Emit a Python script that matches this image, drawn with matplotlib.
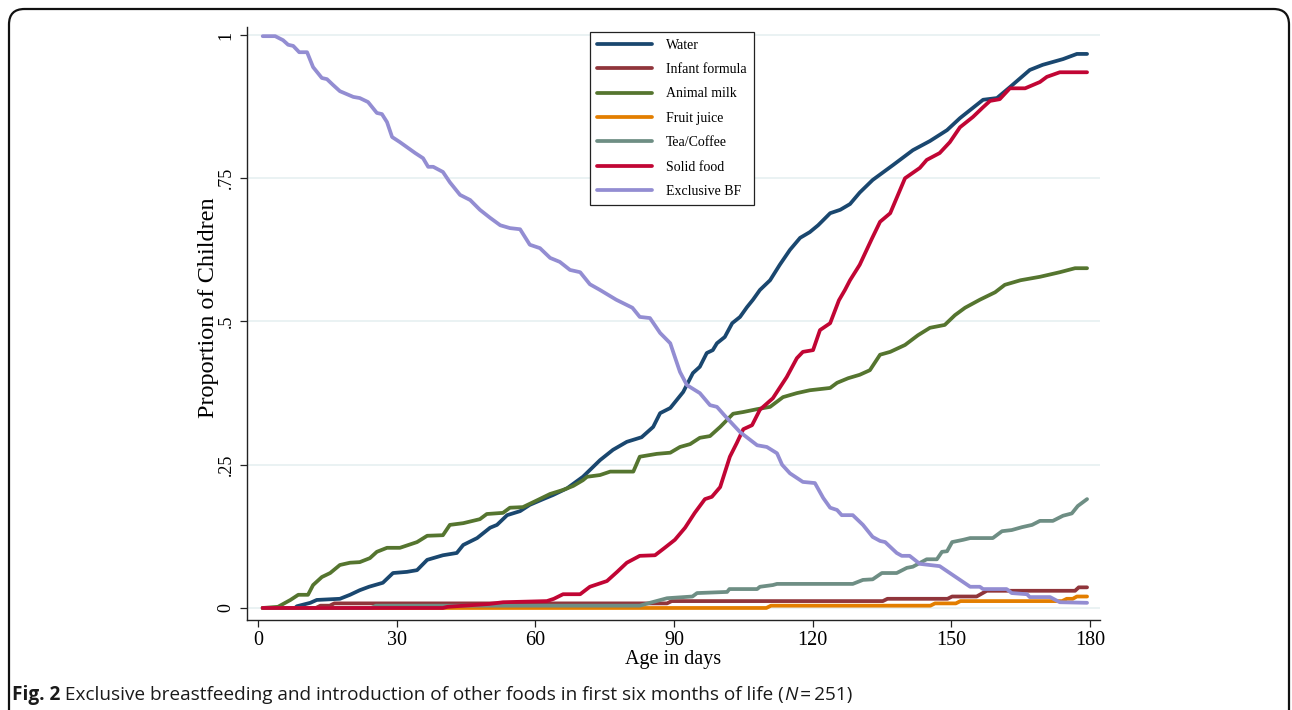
import matplotlib
matplotlib.use("Agg")
import matplotlib.pyplot as plt
from matplotlib.patches import FancyBboxPatch

# ---------------- data (day, proportion) ----------------
series_names = ["Water", "Infant formula", "Animal milk", "Fruit juice",
                "Tea/Coffee", "Solid food", "Exclusive BF"]
series_colors = ["#1a476f", "#90353b", "#55752f", "#e37e00",
                 "#6e8e84", "#c10534", "#938dd2"]

water = [(1, 0), (8, 0), (8.4, 0.003), (11.3, 0.009), (12.7, 0.014), (17.7, 0.016),
         (19.9, 0.023), (22, 0.031), (24, 0.037), (27, 0.044), (29.2, 0.061),
         (32.2, 0.063), (34.4, 0.066), (36.6, 0.084), (40, 0.092), (43, 0.096),
         (44.4, 0.11), (47.4, 0.122), (50.2, 0.14), (51.7, 0.145), (53.9, 0.162),
         (56.7, 0.169), (58.8, 0.18), (61.7, 0.19), (63.8, 0.197), (66.9, 0.209),
         (70.3, 0.229), (74, 0.258), (76.8, 0.276), (79.8, 0.29), (83, 0.298),
         (85.5, 0.316), (87, 0.34), (89.2, 0.349), (90.9, 0.366), (92, 0.377),
         (94.1, 0.41), (95.6, 0.421), (97.1, 0.445), (98.4, 0.45), (99.3, 0.462),
         (101, 0.473), (102.6, 0.497), (104.3, 0.508), (105.8, 0.525), (107.1, 0.538),
         (108.6, 0.555), (110.8, 0.572), (112.9, 0.599), (115.1, 0.625), (117.3, 0.646),
         (119.4, 0.656), (121.2, 0.668), (123.8, 0.689), (126, 0.695), (128.1, 0.705),
         (130.2, 0.725), (133, 0.747), (137.4, 0.773), (141.7, 0.799), (145.4, 0.815),
         (149.1, 0.834), (151.9, 0.855), (156.9, 0.887), (159.9, 0.89), (162.7, 0.909),
         (167, 0.939), (169.8, 0.948), (174.2, 0.958), (177.2, 0.967), (179.4, 0.967)]

infant_formula = [(1, 0), (12.5, 0), (13.5, 0.004), (15.5, 0.004), (16.5, 0.008),
                  (88.5, 0.008), (89.5, 0.012), (135.2, 0.012), (136.2, 0.016),
                  (149.2, 0.016), (150.2, 0.02), (155.5, 0.02), (157.7, 0.03),
                  (176.8, 0.03), (177.6, 0.036), (179.4, 0.036)]

animal_milk = [(1, 0), (4.3, 0.002), (7, 0.014), (8.7, 0.023), (10.8, 0.023),
               (11.9, 0.04), (13.8, 0.054), (15.6, 0.061), (17.7, 0.075), (19.9, 0.079),
               (22, 0.08), (24.2, 0.087), (25.7, 0.098), (27.9, 0.105), (30.7, 0.105),
               (34.4, 0.115), (36.6, 0.126), (40, 0.127), (41.5, 0.145), (44.4, 0.148),
               (48, 0.155), (49.5, 0.164), (53, 0.166), (54.5, 0.175), (57.3, 0.176),
               (60.4, 0.188), (63.2, 0.199), (66, 0.206), (68.2, 0.213), (70.3, 0.223),
               (71.2, 0.229), (74, 0.232), (76.2, 0.238), (81.2, 0.238), (82.6, 0.264),
               (86.3, 0.269), (89.2, 0.271), (91.3, 0.281), (93.5, 0.286), (95.6, 0.297),
               (97.8, 0.3), (100, 0.316), (102.8, 0.339), (105, 0.342), (108, 0.347),
               (110.8, 0.351), (113.6, 0.368), (116.6, 0.375), (119.4, 0.38),
               (123.8, 0.384), (125.3, 0.393), (127.7, 0.401), (130.2, 0.407),
               (132.4, 0.415), (134.6, 0.442), (136.8, 0.447), (140, 0.459),
               (142.8, 0.476), (145.4, 0.489), (148.6, 0.494), (150.8, 0.511),
               (153, 0.524), (156.2, 0.538), (159.5, 0.551), (161.6, 0.564),
               (165, 0.572), (169.2, 0.578), (173.5, 0.586), (176.8, 0.593), (179.4, 0.593)]

fruit_juice = [(1, 0), (110, 0), (111, 0.004), (145.5, 0.004), (146.5, 0.008),
               (151, 0.008), (152, 0.012), (174, 0.012), (175, 0.016), (176.3, 0.016),
               (177.2, 0.02), (179.4, 0.02)]

tea_coffee = [(1, 0), (24.5, 0), (25.5, 0.004), (82.6, 0.004), (84.8, 0.009),
              (88.5, 0.017), (94, 0.02), (95, 0.026), (101.5, 0.028), (102, 0.033),
              (108, 0.033), (108.6, 0.037), (111.4, 0.04), (112.3, 0.042), (128.7, 0.042),
              (130.9, 0.049), (133, 0.05), (135, 0.061), (138.2, 0.061), (140.4, 0.07),
              (141.7, 0.072), (144.7, 0.085), (146.9, 0.085), (148, 0.098), (149.1, 0.099),
              (150.2, 0.115), (152.6, 0.119), (154.1, 0.122), (159, 0.122), (161, 0.134),
              (163.1, 0.136), (165.3, 0.141), (167.5, 0.145), (169.2, 0.152), (172, 0.152),
              (174.2, 0.161), (176.1, 0.165), (177.4, 0.178), (179.4, 0.19)]

solid_food = [(1, 0), (40, 0), (41, 0.002), (50, 0.007), (53, 0.01), (62.5, 0.012),
              (64, 0.016), (66, 0.024), (69.7, 0.024), (71.8, 0.037), (75.5, 0.047),
              (77.7, 0.063), (79.8, 0.079), (82.6, 0.091), (85.9, 0.092), (88, 0.105),
              (90.2, 0.119), (92.4, 0.14), (94.5, 0.166), (96.7, 0.19), (98.2, 0.194),
              (100, 0.211), (102.1, 0.264), (103.6, 0.288), (105, 0.312), (106.9, 0.319),
              (108.6, 0.346), (111.4, 0.366), (114.4, 0.403), (116.6, 0.436),
              (117.9, 0.447), (120.1, 0.45), (121.6, 0.485), (123.8, 0.497),
              (125.7, 0.537), (127, 0.555), (128.1, 0.572), (130.2, 0.599),
              (132.8, 0.644), (134.6, 0.674), (136.8, 0.689), (140, 0.75),
              (143.2, 0.768), (144.7, 0.782), (147.5, 0.794), (149.7, 0.813),
              (151.9, 0.839), (154.7, 0.857), (156.9, 0.874), (158.4, 0.885),
              (160.5, 0.888), (162.7, 0.907), (166, 0.907), (169.2, 0.918),
              (170.7, 0.927), (173.5, 0.935), (179.4, 0.935)]

exclusive_bf = [(1, 0.998), (3.7, 0.998), (5.4, 0.991), (6.5, 0.983), (7.6, 0.981),
                (8.9, 0.97), (10.6, 0.97), (11.9, 0.944), (13.8, 0.925), (14.9, 0.923),
                (16.2, 0.913), (17.7, 0.902), (20.6, 0.892), (22, 0.89), (23.8, 0.883),
                (25.7, 0.864), (26.8, 0.862), (27.9, 0.848), (29, 0.822), (30.7, 0.813),
                (34, 0.794), (35.7, 0.785), (36.8, 0.77), (37.9, 0.77), (40, 0.761),
                (41.5, 0.743), (43.7, 0.721), (45.9, 0.712), (48, 0.695), (50.2, 0.681),
                (52.4, 0.668), (54.5, 0.663), (56.7, 0.661), (58.8, 0.634), (61, 0.628),
                (63.2, 0.611), (65.3, 0.604), (67.5, 0.59), (69.7, 0.586), (71.8, 0.565),
                (74, 0.555), (77.5, 0.538), (81, 0.524), (82.6, 0.508), (84.8, 0.506),
                (87, 0.48), (89.2, 0.462), (90.2, 0.438), (91.3, 0.412), (92.8, 0.389),
                (95.6, 0.375), (97.8, 0.354), (99.3, 0.351), (101.4, 0.332),
                (104.3, 0.307), (108, 0.284), (110.1, 0.281), (112.3, 0.27),
                (113.4, 0.25), (115.1, 0.235), (117.9, 0.22), (120.5, 0.218),
                (122.3, 0.192), (123.8, 0.175), (125.3, 0.171), (126.3, 0.162),
                (128.7, 0.162), (130.9, 0.145), (133, 0.124), (134.6, 0.117),
                (135.7, 0.115), (138.2, 0.096), (139.3, 0.091), (141, 0.091),
                (143.2, 0.077), (147.5, 0.073), (149.7, 0.061), (154.1, 0.037),
                (156.2, 0.037), (156.9, 0.033), (162, 0.033), (163.1, 0.026),
                (166.4, 0.024), (167, 0.019), (171.4, 0.019), (173.5, 0.01), (179.4, 0.009)]

all_series = [water, infant_formula, animal_milk, fruit_juice, tea_coffee,
              solid_food, exclusive_bf]

x_ticks = [0, 30, 60, 90, 120, 150, 180]
y_ticks = [0, 0.25, 0.5, 0.75, 1]
y_tick_labels = ["0", ".25", ".5", ".75", "1"]
x_label = "Age in days"
y_label = "Proportion of Children"
caption_bold = "Fig. 2"
caption_text = " Exclusive breastfeeding and introduction of other foods in first six months of life ("
caption_italic = "N"
caption_end = "\u2009=\u2009251)"

# ---------------- figure ----------------
W, H = 1292, 710
fig = plt.figure(figsize=(W / 100, H / 100), dpi=100)
serif = "Liberation Serif"

ax = fig.add_axes([247 / W, 1 - 620 / H, (1100 - 247) / W, (620 - 27) / H])
ax.set_xlim(-2.4, 182.2)
ax.set_ylim(-0.021, 1.014)

for yv in y_ticks:
    ax.axhline(yv, color="#eaf2f3", lw=1.4, zorder=0)

for pts, name, col in zip(all_series, series_names, series_colors):
    xs = [p[0] for p in pts]
    ys = [p[1] for p in pts]
    ax.plot(xs, ys, color=col, lw=2.7, label=name, solid_joinstyle="round",
            solid_capstyle="round", zorder=2)

for s in ["top", "right"]:
    ax.spines[s].set_visible(False)
for s in ["left", "bottom"]:
    ax.spines[s].set_color("#222222")
    ax.spines[s].set_linewidth(1.0)

ax.set_xticks(x_ticks)
ax.set_xticklabels([str(v) for v in x_ticks], fontfamily=serif, fontsize=14.5)
ax.set_yticks(y_ticks)
ax.set_yticklabels(y_tick_labels, fontfamily=serif, fontsize=13, rotation=90,
                   va="center")
ax.tick_params(axis="both", direction="out", length=5, width=0.9, color="#222222",
               pad=3)
ax.tick_params(axis="y", pad=4)

ax.set_xlabel(x_label, fontfamily=serif, fontsize=14.5, labelpad=0)
ax.set_ylabel(y_label, fontfamily=serif, fontsize=17.5)
ax.yaxis.set_label_coords(-0.033, 0.526)

leg = ax.legend(loc="upper left", bbox_to_anchor=(0.402, 0.992), frameon=True,
                fancybox=False, edgecolor="#222222", framealpha=1,
                prop={"family": serif, "size": 10}, handlelength=4.0,
                handletextpad=1.0, labelspacing=0.82, borderpad=0.5,
                borderaxespad=0)
leg.get_frame().set_linewidth(0.9)

# ---------------- border frame ----------------
border = FancyBboxPatch((9 / W, -0.05), (1289 - 9) / W, (1 - 9 / H) + 0.05,
                        boxstyle="round,pad=0,rounding_size=0.012",
                        transform=fig.transFigure, fill=False,
                        edgecolor="#111111", lw=1.6, mutation_aspect=W / H)
fig.patches.append(border)

# ---------------- caption ----------------
cap_font = "Open Sans"
cap_size = 13.7
cap_y = 1 - 700 / H
fig.canvas.draw()
renderer = fig.canvas.get_renderer()
x_cur = 12 / W
pieces = [(caption_bold, "bold", "normal"), (caption_text, "normal", "normal"),
          (caption_italic, "normal", "italic"), (caption_end, "normal", "normal")]
for txt, weight, style in pieces:
    t = fig.text(x_cur, cap_y, txt, fontfamily=[cap_font, "DejaVu Sans"],
                 fontsize=cap_size, fontweight=weight, fontstyle=style,
                 va="baseline", ha="left", color="#1a1a1a")
    bb = t.get_window_extent(renderer=renderer)
    x_cur += bb.width / W

fig.savefig("out.png", dpi=100)
